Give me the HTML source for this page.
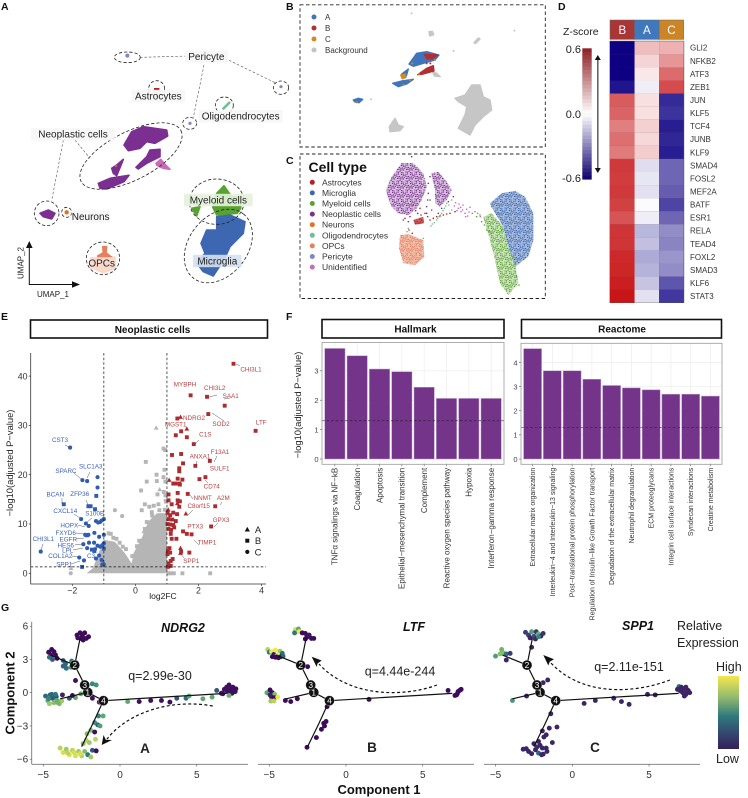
<!DOCTYPE html>
<html lang="en">
<head>
<meta charset="utf-8">
<title>Neoplastic cell multi-panel figure</title>
<style>
html,body{margin:0;padding:0;background:#fff;}
body{width:748px;height:798px;overflow:hidden;}
svg{display:block;font-family:"Liberation Sans",sans-serif;}
text{font-family:"Liberation Sans",sans-serif;}
</style>
</head>
<body>
<svg id="fig" xmlns="http://www.w3.org/2000/svg" width="748" height="798" viewBox="0 0 748 798">
  <defs id="defs">
    <linearGradient id="viridisGrad" x1="0" y1="0" x2="0" y2="1">
      <stop offset="0" stop-color="#f4e84e"/>
      <stop offset="0.3" stop-color="#8fb870"/>
      <stop offset="0.55" stop-color="#2f7a7c"/>
      <stop offset="0.8" stop-color="#34446f"/>
      <stop offset="1" stop-color="#35205a"/>
    </linearGradient>
  </defs>
  <rect x="0" y="0" width="748" height="798" fill="#fff"/>
  <g font-weight="bold" font-size="10.5" fill="#111">
    <text x="1" y="10">A</text>
    <text x="286" y="10">B</text>
    <text x="286" y="164">C</text>
    <text x="558" y="10">D</text>
    <text x="1" y="320">E</text>
    <text x="286" y="320">F</text>
    <text x="1" y="611">G</text>
  </g>
  <g id="panelA"></g>
  <g id="panelB">
    <rect x="300" y="4.8" width="245.3" height="142.2" fill="none" stroke="#222" stroke-width="0.9" stroke-dasharray="3.5 2.5"/>
  </g>
  <g id="panelC">
    <rect x="300" y="154" width="245.3" height="144.5" fill="none" stroke="#222" stroke-width="0.9" stroke-dasharray="3.5 2.5"/>
    <text x="308.5" y="172" font-size="14" font-weight="bold" fill="#111">Cell type</text>
  </g>
  <g id="panelD">
    <text x="563" y="35" font-size="10.5" fill="#222">Z-score</text>
    <text x="581" y="53" font-size="11" fill="#222" text-anchor="end">0.6</text>
    <text x="581" y="118" font-size="11" fill="#222" text-anchor="end">0.0</text>
    <text x="581" y="182" font-size="11" fill="#222" text-anchor="end">-0.6</text>
    <line x1="597.8" y1="58" x2="597.8" y2="170" stroke="#666" stroke-width="1.6"/>
    <polygon points="597.8,55 594.8,60 600.8,60" fill="#111"/>
    <polygon points="597.8,173 594.8,168 600.8,168" fill="#111"/>
  </g>
  <g id="panelE">
    <rect x="30.5" y="320" width="237" height="18" fill="#fff" stroke="#111" stroke-width="1.6"/>
    <text x="152.5" y="332.8" font-size="10" font-weight="bold" text-anchor="middle" fill="#111">Neoplastic cells</text>
    <text transform="translate(13,463) rotate(-90)" font-size="9.4" text-anchor="middle" fill="#222">−log10(adjusted P−value)</text>
    <text x="163" y="599" font-size="8.5" text-anchor="middle" fill="#222">log2FC</text>
  </g>
  <g id="panelF">
    <rect x="322" y="319.5" width="182" height="18.5" fill="#fff" stroke="#111" stroke-width="1.6"/>
    <text x="415.5" y="332.5" font-size="10" font-weight="bold" text-anchor="middle" fill="#111">Hallmark</text>
    <rect x="521.5" y="319.5" width="200" height="18.5" fill="#fff" stroke="#111" stroke-width="1.6"/>
    <text x="622" y="332.5" font-size="10" font-weight="bold" text-anchor="middle" fill="#111">Reactome</text>
    <text transform="translate(301,405) rotate(-90)" font-size="9.4" text-anchor="middle" fill="#222">−log10(adjusted P−value)</text>
  </g>
  <g id="panelG">
    <text transform="translate(14.5,693) rotate(-90)" font-size="13" font-weight="bold" text-anchor="middle" fill="#111">Component 2</text>
    <text x="379" y="794" font-size="13" font-weight="bold" text-anchor="middle" fill="#111">Component 1</text>
    <text x="183" y="632" font-size="12.5" font-weight="bold" font-style="italic" text-anchor="middle" fill="#111">NDRG2</text>
    <text x="414" y="631" font-size="12.5" font-weight="bold" font-style="italic" text-anchor="middle" fill="#111">LTF</text>
    <text x="638" y="630" font-size="12.5" font-weight="bold" font-style="italic" text-anchor="middle" fill="#111">SPP1</text>
    <text x="160" y="680" font-size="12.5" text-anchor="middle" fill="#222">q=2.99e-30</text>
    <text x="400" y="675.5" font-size="12.5" text-anchor="middle" fill="#222">q=4.44e-244</text>
    <text x="629" y="671" font-size="12.5" text-anchor="middle" fill="#222">q=2.11e-151</text>
    <text x="145" y="753" font-size="13.5" font-weight="bold" text-anchor="middle" fill="#222">A</text>
    <text x="372" y="752" font-size="13.5" font-weight="bold" text-anchor="middle" fill="#222">B</text>
    <text x="595" y="752" font-size="13.5" font-weight="bold" text-anchor="middle" fill="#222">C</text>
    <text x="677" y="630" font-size="12.5" fill="#222">Relative</text>
    <text x="677" y="647" font-size="12.5" fill="#222">Expression</text>
    <text x="716" y="671" font-size="12.5" fill="#222">High</text>
    <rect x="718" y="676" width="21" height="73" fill="url(#viridisGrad)"/>
    <text x="716" y="763" font-size="12.5" fill="#222">Low</text>
  </g>
</svg>
<script>
// ---------- Heatmap (panel D) data ----------
const heatmapGenes = ["GLI2","NFKB2","ATF3","ZEB1","JUN","KLF5","TCF4","JUNB","KLF9","SMAD4","FOSL2","MEF2A","BATF","ESR1","RELA","TEAD4","FOXL2","SMAD3","KLF6","STAT3"];
const heatmapColumns = ["B","A","C"];
const heatmapColumnColors = ["#a83636","#3f78bd","#cc8526"];
const zScoresB = [-0.6,-0.6,-0.6,-0.55,0.42,0.4,0.33,0.37,0.34,0.51,0.5,0.51,0.49,0.44,0.52,0.52,0.55,0.56,0.58,0.6];
const zScoresA = [0.17,0.11,0.06,-0.04,0.08,0.08,0.12,0.1,0.13,-0.08,-0.06,-0.07,-0.01,-0.04,-0.17,-0.15,-0.2,-0.18,-0.14,-0.07];
const zScoresC = [0.2,0.27,0.38,0.46,-0.5,-0.48,-0.53,-0.51,-0.53,-0.36,-0.36,-0.38,-0.44,-0.36,-0.27,-0.29,-0.25,-0.27,-0.4,-0.47];

// ---------- Volcano (panel E) data: [log2FC, -log10 adj p] ----------
const volcanoUpSquares = [[3.11,42.5],[1.75,36.1],[2.27,35.8],[2.83,34],[2.31,32.3],[1.33,31.4],[1.45,28.8],[1.28,28],[1.63,27.6],[3.81,28.9],[1.85,26.2],[1.16,24],[1.45,24.2],[1.51,22.3],[1.39,21.3],[1.39,20.7],[2.36,22.8],[1.9,21.8],[2.22,19.5],[2.03,19.1],[1.34,19.2],[1.49,19],[1.2,18.2],[1.27,18.2],[1.39,18.2],[1.41,18],[1.34,16.3],[1.05,16],[1.66,16.1],[2.53,13.6],[1.34,14.8],[1.41,14.6],[1.15,14],[1.39,13.5],[1.05,14.8],[1.02,12.3],[1.1,11.8],[1.2,12.3],[1.32,12],[1.05,11],[1.17,10.9],[1.28,10.6],[1.02,10],[1.1,9.9],[1.2,9.8],[1.05,9],[1.13,8.8],[1.23,9.3],[2.4,9.5],[1.51,8.5],[1.63,8],[1.78,7.9],[1.12,8],[1.15,7],[1.3,7],[1.71,4.2],[1.08,5.1],[1.03,4.6],[1.1,4.2],[1.02,3.9],[1.45,4.4],[1.12,2.5],[1.05,2],[1.18,2.9],[1.03,1.3],[1.12,1.5]];
const volcanoUpTriangles = [[1.43,31.7],[1.63,29.3],[1.07,18.9],[1.33,14.2],[1.6,12.1],[1.04,12.9],[1.43,5.1],[1.43,4.1]];
const volcanoDownCircles = [[-2.07,25.5],[-1.68,18.9],[-1.53,18.7],[-1.2,19.5],[-1.2,17.4],[-1.72,11],[-1.57,10.1],[-1.48,9.6],[-1.25,10.6],[-1.18,10.3],[-1.12,10.4],[-1.07,10.7],[-1,11],[-1.59,7.8],[-1.49,7.8],[-1.3,8.2],[-1.15,7.4],[-1,7.8],[-1.65,5.9],[-1.47,6.2],[-1.31,6.2],[-1.2,5.6],[-1.12,5.4],[-1.05,5.7],[-1,6.1],[-3,4.4],[-1.78,3.2],[-1.63,2.6],[-1.25,3],[-1.15,3.6],[-1.07,2.7],[-1.05,1.8],[-1,1.8],[-1.53,5.1],[-1.28,4.9]];
const volcanoDownSquares = [[-1.24,15.7],[-2.27,14],[-1.49,13.6],[-1.42,13.6],[-1.28,13],[-1.69,1.3],[-1.38,4.8],[-1.3,4.5],[-1,5],[-1.54,7.7]];
const volcanoGrayBodyLog2fc = [-1.55,-1.35,-1,-0.65,-0.33,-0.12,-0.06,0.2,0.41,0.68,1,1,1.2];
const volcanoGrayBodyLogP = [0,1,6.8,6.4,4.05,2,4.05,7.1,10.5,12.2,12.2,0,0];
const volcanoGraySquares = [[0.89,25.3],[0.94,25],[0.33,22.6],[0.92,21],[0.89,19.5],[0.67,20],[0.36,18.6],[0.18,16.8],[0.68,18.7],[0.95,18.6],[0.3,14],[0.2,12.8],[0.44,13.5],[0.58,13.7],[0.73,14],[0.96,14.7],[0.9,16.5],[0.95,15.8],[0.7,16],[0.85,11.8],[-0.85,8.1],[-0.78,8],[-0.7,7.2],[-0.6,7],[-0.5,6.2],[-0.4,5.4],[-0.3,4.9],[-0.86,5.2],[-0.75,4.5],[-0.6,3.8],[-0.93,3.8],[-0.9,2.6],[-0.8,2.8],[-1.22,1.2],[-0.9,1.3],[-0.1,3.5],[0.52,12.4],[1.49,0],[1.22,0],[1.12,0],[1.06,0],[2.37,0],[-1.02,2.2],[0.05,5.5],[0.12,6.6],[0.3,9],[0.36,10.4],[0.53,11.7],[0.76,12.8],[0.93,12.9]];
const volcanoGrayCircles = [[-0.65,12.8],[-0.42,11.6],[-2.05,0]];
const volcanoGrayTriangles = [[0.66,29.5],[0.77,17],[0.98,14.5],[-2.04,1],[0.27,8.5],[0.23,7]];
const volcanoXTicks = [-2,0,2,4];
const volcanoYTicks = [0,10,20,30,40];

// ---------- Enrichment (panel F) data ----------
const hallmarkTerms = ["TNFα signalings via NF−kB","Coagulation","Apoptosis","Epithelial−mesenchymal transition","Complement","Reactive oxygen species pathway","Hypoxia","Interferon−gamma response"];
const hallmarkValues = [3.76,3.51,3.06,2.97,2.44,2.06,2.06,2.06];
const hallmarkTicks = [0,1,2,3];
const reactomeTerms = ["Extracellular matrix organization","Interleukin−4 and Interleukin−13 signaling","Post−translational protein phosphorylation","Regulation of Insulin−like Growth Factor transport","Degradation of the extracellular matrix","Neutrophil degranulation","ECM proteoglycans","Integrin cell surface interactions","Syndecan interactions","Creatine metabolism"];
const reactomeValues = [4.58,3.66,3.66,3.31,3.05,2.95,2.87,2.69,2.69,2.61];
const reactomeTicks = [0,1,2,3,4];
const significanceLine = 1.3;

// ---------- Trajectory (panel G) data: [comp1, comp2, expression] ----------
const trajectoryNodes = [[-2.1,0.03,"1"],[-2.95,2.49,"2"],[-2.3,0.69,"3"],[-1.08,-0.72,"4"]];
const trunkSegments = [[[-2.95,2.49],[-2.3,0.69]],[[-2.3,0.69],[-2.1,0.03]],[[-2.1,0.03],[-1.08,-0.72]],[[-2.95,2.49],[-2.6,4.9]],[[-2.95,2.49],[-4.55,3.4]],[[-2.1,0.03],[-3.9,-0.55]],[[-1.08,-0.72],[6.93,-0.06]]];
const curvedBranch = [[-1.08,-0.72],[-1.75,-2.8],[-2.5,-4.87]];
const geneComponentTicks = [-5,0,5];
const componentYTicks = [-6,-3,0,3,6];
const ndrg2Cells = [[-2.8,5.2,0],[-2.6,5.4,0],[-2.45,5.1,0],[-2.3,5.4,0],[-2.2,4.9,0],[-2.4,4.75,0],[-2.55,4.9,0],[-2.05,5.05,0],[-2.75,4.95,.02],
[-2.85,2.7,.02],[-4.65,3.65,0],[-4.45,3.9,0],[-4.3,3.7,0],[-4.5,3.4,.02],[-4.2,3.4,0],[-4.6,3.2,.45],[-4.1,3.1,0],[-4.4,3,.35],[-3.7,2.9,.3],[-3.55,2.6,.4],[-3.5,2.2,.45],[-3.2,2.3,.6],[-3.7,2.4,.4],[-3.15,2.85,.5],[-2.9,1.1,.02],[-1.8,.8,.55],[-1.55,.7,.6],
[-4.85,-.3,.4],[-4.7,-.7,.7],[-4.55,-.2,.45],[-4.4,-.5,.3],[-4.6,-1,.85],[-4.3,-.9,.8],[-4.15,-.35,.3],[-4.1,-.7,.7],[-3.95,-1,.8],[-3.8,-.75,.85],[-3.75,-.2,.1],[-4.45,-.15,.4],[-4.2,-.15,.5],[-4.65,-.55,.55],[-4.05,-.9,.75],[-3.3,-.5,.3],[-2.9,-.45,.7],[-2.55,-.1,.7],[-3.1,-.25,.02],
[-1.8,-.5,.02],[-1.35,-.85,.05],[-1.4,-2.1,.55],[-1.1,-2.1,.7],[-1.65,-2.7,.6],[-1.45,-2.9,.45],[-1.3,-3,.65],[-1.9,-3.4,.8],[-1.65,-3.55,.02],[-2.15,-3.7,.8],[-2.2,-4.3,.9],[-2,-4.5,.85],[-1.6,-4.2,.9],[-2.4,-4.6,.8],
[-3.9,-5,.9],[-3.7,-5.4,.95],[-3.5,-5.1,.85],[-3.3,-5.6,.95],[-3.1,-5.2,.9],[-2.9,-5.7,.95],[-2.7,-5.3,.85],[-2.5,-5.7,.9],[-2.3,-5.3,.8],[-2.1,-5.6,.5],[-1.9,-5.8,.85],[-1.8,-5.2,.3],[-1.55,-5.25,.02],[-3.4,-5.45,.9],[-3,-5.4,.95],[-2.6,-5.5,.95],
[.5,-.8,.7],[1.25,-.8,.02],[2,-.7,.02],[2.7,-.7,.02],[3.25,-.85,.02],[3.7,-.5,.3],[4.3,-.5,.45],[4.5,-.3,.7],[5.4,-.55,.7],[6,-.4,.7],[6.3,.2,.3],[6.7,-.1,.02],[7.1,.7,.02],[6.8,.3,.02],[6.95,.5,.02],[7.2,.3,.02],[7.35,.5,.02],[7.45,.3,.02],[7.5,.1,.02],[7.2,.05,.02],[7.0,.1,.02],[7.3,-.05,.02],[7.1,-.25,.75],[7.55,.35,.02],[6.6,-.05,.02]];
const ltfCells = [[-3.3,5.7,.95],[-3.2,5.5,1],[-3.1,5.75,.7],[-3.35,5.4,.5],[-3.05,5.5,1],[-2.85,5.4,0],[-2.65,5.35,0],[-2.55,5.0,0],[-2.4,5.2,.05],[-2.25,4.9,0],[-2.1,4.9,0],[-2.65,4.85,0],
[-5.1,3.9,.9],[-5,3.65,.5],[-4.85,3.7,1],[-4.7,3.45,.05],[-4.6,3.85,1],[-4.5,3.35,.9],[-4.3,3.75,.85],[-4.15,3.55,.45],[-4.8,3.25,0],[-4.6,3.2,0],[-4.4,3.15,0],[-4.25,3.25,0],[-4.1,3.3,.4],
[-2.5,2.35,0],[-5.15,0,.7],[-4.95,.25,0],[-4.8,0,0],[-4.65,-.15,.8],[-4.85,-.4,.02],[-4.65,-.45,0],[-4.9,-.75,.85],[-4.7,-.75,.9],[-4.45,-.4,1],[-4.95,-.2,.1],[-3.95,-.7,0],[-3.6,-.8,0],[-3.17,-.55,0],
[1.5,-.6,0],[6.65,.2,0],[7.2,-.2,0],[7.3,.1,0],[7.4,.2,0],[7.5,.3,0],[7.25,-.1,0],[7.1,-.25,0],[-1.45,-2.76,0],[-1.6,-3.3,0],[-1.3,-2.6,0],[-1.4,-3,0],[-1.23,-1.26,0],[-1.93,-4.05,0],[-2.54,-4.93,0]];
const spp1Cells = [[-3.05,5.45,.2],[-2.85,5.2,.2],[-2.65,5.5,.65],[-2.5,5.1,.3],[-2.35,5.5,.15],[-2.2,5.3,.75],[-2.05,5.1,.1],[-1.9,5.35,.15],[-2.75,4.95,.1],[-2.4,4.85,.1],[-2.2,5.05,.55],[-2.65,4.1,.1],
[-5,3.3,.65],[-4.7,3.5,.8],[-4.6,3.9,.75],[-4.5,3.6,.8],[-4.3,3.5,.45],[-4.05,3.55,.2],[-4.3,2.95,.1],[-1.6,1.15,.1],[-1.9,.9,.1],[-3.9,-.7,.62],[-2.98,-.3,.1],
[-1.4,-1.9,.1],[-1.0,-3.1,.1],[-1.95,-3.45,.1],[-1.7,-3.8,.1],[-1.5,-3.2,.1],[-1.85,-4.0,.1],[-1.3,-4.5,.1],[-2.2,-4.4,.1],[-2.5,-4.6,.1],[-2.3,-4.9,.15],[-2.1,-4.75,.1],[-1.95,-5,.1],[-1.7,-5,.1],[-1.65,-5.3,.1],[-1.9,-5.55,.1],[-2.2,-5.45,.4],[-2.4,-5.15,.1],[-3.2,-5.1,.1],[-3,-5.05,.1],[-2.85,-5.3,.1],[-2.65,-5.5,.1],[-2.0,-5.6,.1],
[.77,-.97,.1],[1.5,-.7,.1],[2.7,-.5,.1],[3.2,-.8,.1],[3.7,-1.05,.1],[4.9,-.15,.1],[5.4,-.2,.1],[6.95,.55,.45],[6.85,.3,.1],[7.1,.5,.1],[7.25,.3,.1],[7.4,.5,.1],[7.55,.2,.1],[7.65,0,.1],[7.4,-.15,.1],[7.2,0,.1],[7.05,.15,.1],[7.3,-.3,.1],[7.5,.05,.1]];

// ---------- UMAP embedding outlines (embedding units) ----------
const cellLegendLabels = ["Astrocytes","Microglia","Myeloid cells","Neoplastic cells","Neurons","Oligodendrocytes","OPCs","Pericyte","Unidentified"];
const cellLegendColors = ["#b62025","#3d68b1","#58a32f","#7a2f91","#e27322","#74bb97","#e4805b","#7e87c4","#c96cb8"];
const sampleLegendLabels = ["A","B","C","Background"];
const sampleLegendColors = ["#3f75bc","#b32e2e","#cf8a26","#c4c4c4"];

const umapAColorShapes = [
 ["#7a2f91",[[372,435],[395,395],[430,380],[500,390],[503,408],[465,430],[440,425],[420,445],[385,452]]],
 ["#7a2f91",[[408,502],[440,470],[450,450],[480,448],[480,470],[440,490],[415,507]]],
 ["#7a2f91",[[335,505],[350,495],[370,478],[362,498],[350,527],[340,520]]],
 ["#7a2f91",[[295,550],[330,535],[387,526],[372,545],[320,567],[300,565]]],
 ["#7a2f91",[[120,640],[145,630],[165,640],[155,657],[130,650]]],
 ["#c96cb8",[[468,490],[482,478],[492,490],[510,508],[490,505],[482,502],[470,495]]],
 ["#f7d9cc",[[280,780],[300,768],[345,772],[345,805],[310,818],[285,808]]],
 ["#e4805b",[[308,740],[320,740],[318,758],[335,772],[310,772],[295,778],[293,768],[310,758]]],
 ["#58a32f",[[672,557],[695,590],[722,590],[722,625],[712,640],[650,645],[638,622],[650,580]]],
 ["#58a32f",[[575,625],[600,620],[590,648]]],
 ["#3d68b1",[[650,650],[690,645],[735,665],[730,700],[690,740],[672,780],[650,812],[640,828],[610,815],[590,790],[615,760],[603,730],[620,690],[650,690]]]
];
const umapBShapes = [
 ["#c6c6c6",[[480,295],[510,285],[530,255],[555,255],[565,290],[585,300],[590,330],[565,350],[540,375],[525,405],[490,385],[510,345],[515,320],[490,305]]],
 ["#c6c6c6",[[300,355],[310,375],[325,380],[315,392],[285,395],[283,380]]],
 ["#c6c6c6",[[402,95],[412,94],[416,104],[404,108]]],
 ["#c6c6c6",[[537,128],[550,114],[555,117],[541,131]]],
 ["#c6c6c6",[[412,215],[425,220],[436,230],[418,228]]],
 ["#3f75bc",[[342,192],[365,160],[395,155],[432,165],[420,180],[385,190],[355,199]]],
 ["#3f75bc",[[175,300],[190,295],[203,298],[192,308],[180,306]]],
 ["#3f75bc",[[293,250],[320,243],[355,238],[335,252],[310,260]]],
 ["#3f75bc",[[320,222],[340,207],[334,228]]],
 ["#b32e2e",[[368,224],[395,205],[415,197],[417,213],[385,222]]],
 ["#b32e2e",[[388,163],[428,165],[412,176],[395,176]]],
 ["#cf8a26",[[317,225],[330,222],[333,232],[322,236]]]
];
const umapCStipples = [
 ["#7a2f91",0.3,[[272,570],[290,530],[320,488],[355,490],[385,520],[395,560],[380,600],[365,625],[340,645],[310,640],[290,620],[278,590]]],
 ["#7a2f91",0.3,[[408,520],[430,515],[455,545],[470,570],[455,600],[435,620],[420,608],[420,570]]],
 ["#3d68b1",0.45,[[585,610],[620,580],[660,572],[690,590],[715,640],[715,720],[700,770],[660,800],[640,740],[625,680],[600,640]]],
 ["#58a32f",0.3,[[565,650],[590,640],[625,680],[640,740],[660,790],[670,850],[640,885],[615,850],[600,780],[585,720]]],
 ["#e4805b",0.5,[[315,705],[340,703],[385,720],[388,770],[360,795],[325,790],[312,745]]],
 ["#b62025",0.7,[[355,660],[385,650],[387,670],[360,674]]]
];
const trailUnidentified = [[470,600],[482,608],[492,612],[497,622],[503,630],[510,640],[518,648],[525,622],[532,640],[540,635],[548,640],[556,650],[504,615],[515,628],[490,625],[498,635],[512,650],[522,636],[478,618],[486,632]];
const trailAstrocyte = [[355,615],[362,632],[375,625],[390,640],[405,660],[425,650],[445,645],[465,640],[480,635],[345,650],[342,690],[352,700],[368,640],[378,645],[398,650],[415,655],[435,648],[455,642]];
const trailOligo = [[408,678],[418,668],[425,660],[432,650],[440,640],[448,625],[455,610],[385,715],[380,740],[375,765],[462,615],[470,630],[412,672],[428,655],[436,645],[444,632],[452,618],[340,685],[336,695]];
const trailPurple = [[400,580],[405,600],[395,620],[410,630],[440,625],[460,605],[475,590],[340,665],[325,660],[395,640],[400,550],[405,530],[350,470],[330,655],[398,600],[430,640]];
const trailGreen = [[545,650],[560,665],[575,690],[590,700],[610,640],[590,620],[620,690],[665,830],[672,855],[555,645],[568,675],[582,695]];

const umapEllipses = [[393,468,168,72,-27],[655,738,122,88,-52],[650,605,82,68,0],[140,640,37,37,0],[200,637,15,15,0],[309,775,50,49,0],[470,266,24,24,0],[673,316,27,25,0],[382,172,39,16,0],[843,263,23,20,0],[569,370,21,18,0]];
const umapLeaders = [[420,172,565,168],[675,175,825,248],[612,195,580,352],[190,420,155,602],[225,420,270,475]];
const umapLabels = [["Pericyte",619,170],["Astrocytes",475,288],["Oligodendrocytes",722,349],["Neoplastic cells",219,403],["Neurons",272,650],["OPCs",305,790],["Myeloid cells",655,600],["Microglia",652,783]];

// ---------- Helpers ----------
const NS = "http://www.w3.org/2000/svg";
function shape(tag, parent, attrs){
  const node = document.createElementNS(NS, tag);
  for (const k in attrs) node.setAttribute(k, attrs[k]);
  parent.appendChild(node);
  return node;
}
function ptsToString(list, fx, fy){
  return list.map(p => fx(p[0]).toFixed(1) + "," + fy(p[1]).toFixed(1)).join(" ");
}
const defs = document.getElementById("defs");
const panelA = document.getElementById("panelA");
const panelB = document.getElementById("panelB");
const panelC = document.getElementById("panelC");
const panelD = document.getElementById("panelD");
const panelE = document.getElementById("panelE");
const panelF = document.getElementById("panelF");
const panelG = document.getElementById("panelG");

// ---------- Panel A ----------
const ax = u => u / 3;
const ay = v => v / 3;
for (const s of umapAColorShapes){
  const poly = shape("polygon", panelA, {points: ptsToString(s[1], ax, ay), fill: s[0], stroke: s[0], "stroke-width": 1.6, "stroke-linejoin": "round"});
  
  
}
[[382,167,"#7e87c4",2],[843,260,"#7e87c4",1.6],[570,370,"#7e87c4",1.6],[200,637,"#e27322",2.2],[348,498,"#e27322",1]].forEach(d => {
  const c = shape("circle", panelA, {cx: ax(d[0]), cy: ay(d[1]), r: d[3], fill: d[2]});
  
  
});
const astroHalo = shape("circle", panelA, {cx: ax(470), cy: ay(277), r: 4, fill: "#f2c9c4"});


const astroBlob = shape("rect", panelA, {x: ax(462), y: ay(264), width: 5.4, height: 2.6, fill: "#b62025"});


const oligoBlob = shape("line", panelA, {x1: ax(668), y1: ay(328), x2: ax(690), y2: ay(306), stroke: "#74bb97", "stroke-width": 2.6});


for (const e of umapEllipses){
  const el = shape("ellipse", panelA, {cx: 0, cy: 0, rx: ax(e[2]), ry: ay(e[3]), transform: "translate(" + ax(e[0]) + "," + ay(e[1]) + ") rotate(" + e[4] + ")", fill: "none", stroke: "#222", "stroke-width": 0.8, "stroke-dasharray": "3.2 2"});
  
  
}
for (const l of umapLeaders){
  const ln = shape("line", panelA, {x1: ax(l[0]), y1: ay(l[1]), x2: ax(l[2]), y2: ay(l[3]), stroke: "#555", "stroke-width": 0.6, "stroke-dasharray": "2.6 1.8"});
  
  
}
for (const t of umapLabels){
  const wide = t[0].length * 5.05 + 3;
  const bg = shape("rect", panelA, {x: ax(t[1]) - wide / 2, y: ay(t[2]) - 6.2, width: wide, height: 12.4, fill: t[0] === "Microglia" ? "#d5e0f0" : t[0] === "Myeloid cells" ? "#e6f2dc" : t[0] === "OPCs" ? "#f7d9cc" : "#f6f6f6", opacity: 0.9});
  
  
  const tx = shape("text", panelA, {x: ax(t[1]), y: ay(t[2]) + 3.4, "font-size": 10, "text-anchor": "middle", fill: "#222"});
  
  
  tx.textContent = t[0];
}
const umapAxis = shape("path", panelA, {d: "M29.3 245V284.5H76", fill: "none", stroke: "#111", "stroke-width": 1});


const umapArrowUp = shape("polygon", panelA, {points: "29.3,241 26,248 32.6,248", fill: "#111"});


const umapArrowRight = shape("polygon", panelA, {points: "80,284.5 72,281.2 72,287.8", fill: "#111"});


const umapX = shape("text", panelA, {x: 53, y: 297, "font-size": 8, "text-anchor": "middle", fill: "#222"});


umapX.textContent = "UMAP_1";
const umapY = shape("text", panelA, {transform: "translate(23.5,263) rotate(-90)", "font-size": 8, "text-anchor": "middle", fill: "#222"});


umapY.textContent = "UMAP_2";

// ---------- Panel B ----------
const bx = u => 295 + u / 3;
const by = v => v / 3;
for (const s of umapBShapes){
  const poly = shape("polygon", panelB, {points: ptsToString(s[1], bx, by), fill: s[0], stroke: s[0], "stroke-width": 1.4, "stroke-linejoin": "round"});
  
  
}
[[350,40,"#c6c6c6"],[476,153,"#c6c6c6"],[658,92,"#c6c6c6"],[228,298,"#c6c6c6"],[406,190,"#b32e2e"],[395,190,"#b32e2e"],[420,180,"#cf8a26"],[352,190,"#cf8a26"],[325,255,"#cf8a26"],[345,240,"#cf8a26"],[185,307,"#cf8a26"],[372,222,"#cf8a26"],[412,205,"#b32e2e"]].forEach(d => {
  const c = shape("circle", panelB, {cx: bx(d[0]), cy: by(d[1]), r: 1, fill: d[2]});
  
  
});
sampleLegendLabels.forEach((name, i) => {
  const y = 17 + i * 11;
  const dot = shape("circle", panelB, {cx: 314, cy: y, r: 2.5, fill: sampleLegendColors[i]});
  
  
  const tx = shape("text", panelB, {x: 325, y: y + 3, "font-size": 8, fill: "#333"});
  
  
  tx.textContent = name;
});

// ---------- Panel C ----------
const tile = [[1,1],[4,0.5],[7,2],[2.5,3],[5.5,3.5],[8,4.5],[0.5,5],[3.5,5.5],[6.5,6],[1.5,7.5],[4.5,8],[7.5,8],[2.5,1.2],[5.6,1.6],[0.9,3.2],[7.2,3.7],[2,5.8],[5,6.4],[8.3,6.4],[3,7.4],[6.1,7.9]];
const cx = u => 295 + u / 3;
const cy = v => v / 3;
umapCStipples.forEach((s, i) => {
  const pat = shape("pattern", defs, {id: "stip" + i, width: 9, height: 9, patternUnits: "userSpaceOnUse"});
  tile.forEach(t => shape("circle", pat, {cx: t[0], cy: t[1], r: 0.62, fill: s[0]}));
  const tint = shape("polygon", panelC, {points: ptsToString(s[2], cx, cy), fill: s[0], "fill-opacity": s[1]});
  
  
  const poly = shape("polygon", panelC, {points: ptsToString(s[2], cx, cy), fill: "url(#stip" + i + ")"});
  
  
});
[[trailUnidentified,"#c96cb8"],[trailAstrocyte,"#b62025"],[trailOligo,"#74bb97"],[trailPurple,"#7a2f91"],[trailGreen,"#58a32f"]].forEach(group => {
  for (const p of group[0]){
    const c = shape("circle", panelC, {cx: cx(p[0]), cy: cy(p[1]), r: 0.8, fill: group[1]});
    
    
  }
});
cellLegendLabels.forEach((name, i) => {
  const y = 182.3 + i * 10.6;
  const dot = shape("circle", panelC, {cx: 312.3, cy: y, r: 2.5, fill: cellLegendColors[i]});
  
  
  const tx = shape("text", panelC, {x: 322, y: y + 3, "font-size": 8.5, fill: "#333"});
  
  
  tx.textContent = name;
});

// ---------- Panel D ----------
function zColor(z){
  const t = Math.min(1, Math.abs(z) / 0.6);
  const end = z >= 0 ? [200,22,24] : [13,0,131];
  return "rgb(" + end.map(c => Math.round(255 + (c - 255) * t)).join(",") + ")";
}
function barColor(z){
  const t = Math.min(1, Math.abs(z) / 0.6);
  const end = z >= 0 ? [140,30,36] : [13,0,110];
  return "rgb(" + end.map(c => Math.round(255 + (c - 255) * t)).join(",") + ")";
}
const heatX = col => 610 + col * 24.55;
const heatY = row => 41.3 + row * 13.07;
const zColumns = [zScoresB, zScoresA, zScoresC];
const heatFrame = shape("rect", panelD, {x: 609.6, y: 40.8, width: 74.6, height: 262.2, fill: "#555"});


zColumns.forEach((vals, c) => {
  const head = shape("rect", panelD, {x: heatX(c), y: 20, width: 24.55, height: 19.4, fill: heatmapColumnColors[c], stroke: "#666", "stroke-width": 0.5});
  
  
  const lab = shape("text", panelD, {x: heatX(c) + 12.3, y: 34, "font-size": 11.5, "text-anchor": "middle", fill: "#fff"});
  
  
  lab.textContent = heatmapColumns[c];
  vals.forEach((z, r) => {
    const cell = shape("rect", panelD, {x: heatX(c), y: heatY(r), width: 24.55, height: 13.07, fill: zColor(z)});
    
    
  });
});
heatmapGenes.forEach((g, r) => {
  const tx = shape("text", panelD, {x: 690, y: heatY(r) + 9.4, "font-size": 8, fill: "#333"});
  
  
  tx.textContent = g;
});
for (let i = 0; i < 36; i++){
  const seg = shape("rect", panelD, {x: 582.3, y: 48.3 + i * 131 / 36, width: 9.4, height: 131 / 36 + 0.3, fill: barColor(0.6 - 1.2 * (i + 0.5) / 36)});
  
  
}

// ---------- Panel E ----------
const vx = v => 135.4 + v * 31.55;
const vy = v => 573.3 - v * 4.93;
const greyBody = shape("polygon", panelE, {points: volcanoGrayBodyLog2fc.map((v, i) => vx(v).toFixed(1) + "," + vy(volcanoGrayBodyLogP[i]).toFixed(1)).join(" "), fill: "#b5b5b5"});


function vSquare(p, fill){
  const s = shape("rect", panelE, {x: vx(p[0]) - 1.95, y: vy(p[1]) - 1.95, width: 3.9, height: 3.9, fill: fill});
  
  
}
function vCircle(p, fill){
  const s = shape("circle", panelE, {cx: vx(p[0]), cy: vy(p[1]), r: 2.05, fill: fill});
  
  
}
function vTriangle(p, fill){
  const x = vx(p[0]), y = vy(p[1]);
  const s = shape("polygon", panelE, {points: x + "," + (y - 2.5) + " " + (x - 2.4) + "," + (y + 1.8) + " " + (x + 2.4) + "," + (y + 1.8), fill: fill});
  
  
}
volcanoGraySquares.forEach(p => vSquare(p, "#b5b5b5"));
volcanoGrayCircles.forEach(p => vCircle(p, "#b5b5b5"));
volcanoGrayTriangles.forEach(p => vTriangle(p, "#b5b5b5"));
volcanoUpSquares.forEach(p => vSquare(p, "#ab2c30"));
volcanoUpTriangles.forEach(p => vTriangle(p, "#ab2c30"));
volcanoDownCircles.forEach(p => vCircle(p, "#2f5cae"));
volcanoDownSquares.forEach(p => vSquare(p, "#2f5cae"));
[[vx(-1), 353, vx(-1), 584],[vx(1), 353, vx(1), 584],[30.7, vy(significanceLine), 266, vy(significanceLine)]].forEach(l => {
  const ln = shape("line", panelE, {x1: l[0], y1: l[1], x2: l[2], y2: l[3], stroke: "#111", "stroke-width": 0.7, "stroke-dasharray": "2.6 2"});
  
  
});
const vAxes = shape("path", panelE, {d: "M30.7 353V584H266", fill: "none", stroke: "#333", "stroke-width": 0.8});


volcanoXTicks.forEach(t => {
  const m = shape("line", panelE, {x1: vx(t), y1: 584, x2: vx(t), y2: 586, stroke: "#333", "stroke-width": 0.7});
  
  
  const tx = shape("text", panelE, {x: vx(t), y: 593.5, "font-size": 8.8, "text-anchor": "middle", fill: "#333"});
  
  
  tx.textContent = t < 0 ? "−" + Math.abs(t) : String(t);
});
volcanoYTicks.forEach(t => {
  const m = shape("line", panelE, {x1: 28.7, y1: vy(t), x2: 30.7, y2: vy(t), stroke: "#333", "stroke-width": 0.7});
  
  
  const tx = shape("text", panelE, {x: 27.5, y: vy(t) + 3.2, "font-size": 8.8, "text-anchor": "end", fill: "#333"});
  
  
  tx.textContent = String(t);
});
function geneLabel(text, x, y, color){
  const tx = shape("text", panelE, {x: x, y: y + 2.2, "font-size": 6.3, "text-anchor": "middle", fill: color});
  
  
  tx.textContent = text;
}
function leader(x1, y1, x2, y2){
  const ln = shape("line", panelE, {x1: x1, y1: y1, x2: x2, y2: y2, stroke: "#444", "stroke-width": 0.45});
  
  
}
const redInk = "#b8403f", blueInk = "#3c60b6";
geneLabel("CHI3L1",251,369.3,redInk); geneLabel("MYBPH",185,384.3,redInk); geneLabel("CHI3L2",214.7,387.7,redInk); geneLabel("SAA1",230.7,395.7,redInk);
geneLabel("NDRG2",194,417.7,redInk); geneLabel("MGST1",175.7,424.3,redInk); geneLabel("SOD2",221,423.7,redInk); geneLabel("LTF",261.3,422.3,redInk);
geneLabel("C1S",205.3,434.3,redInk); geneLabel("F13A1",220,451.7,redInk); geneLabel("ANXA1",200,456.3,redInk); geneLabel("SULF1",219.7,468.3,redInk);
geneLabel("CD74",211.7,486.3,redInk); geneLabel("NNMT",202.7,497.7,redInk); geneLabel("A2M",223.3,497.7,redInk); geneLabel("C8orf15",198.7,505.7,redInk);
geneLabel("GPX3",221,520,redInk); geneLabel("PTX3",195.3,526.3,redInk); geneLabel("TIMP1",207,542.3,redInk); geneLabel("SPP1",191.3,561,redInk);
geneLabel("CST3",60,440,blueInk); geneLabel("SPARC",66,470.7,blueInk); geneLabel("SLC1A3",90.7,466.3,blueInk); geneLabel("BCAN",55.3,494.3,blueInk);
geneLabel("ZFP36",79.7,494,blueInk); geneLabel("CXCL14",65.3,511,blueInk); geneLabel("S100B",94.7,513.3,blueInk); geneLabel("HOPX",69.3,525.3,blueInk);
geneLabel("FXYD6",65.7,533,blueInk); geneLabel("EGFR",68.3,539.3,blueInk); geneLabel("HES6",65.7,545.3,blueInk); geneLabel("LPL",67.7,550.3,blueInk);
geneLabel("CHI3L1",43.3,539,blueInk); geneLabel("COL1A2",60.3,556,blueInk); geneLabel("C3",91,556,blueInk); geneLabel("SPP1",64.3,564.3,blueInk);
leader(236,364,240,366); leader(217,395,209,397); leader(224,399,230,398); leader(212,413,224,421); leader(194,445,199,440); leader(214,462,217,456);
leader(196,466,197,461); leader(205,480,208,483); leader(193,499,190,495); leader(220,505,222,502); leader(188,515,193,510); leader(214,527,218,523);
leader(194,540,199,545); leader(180,553,184,558); leader(65,445,69,447); leader(74,473,81,479); leader(90,472,87,478); leader(62,498,62,504);
leader(86,500,88,505); leader(74,514,80,518); leader(92,518,87,522); leader(78,525,85,527); leader(76,533,84,534); leader(76,539,84,538);
leader(75,545,82,544); leader(73,550,83,548); leader(43,544,41,550); leader(72,556,78,557); leader(71,564,80,561);
const legendMarks = [["A",vTriangleMark],["B",vSquareMark],["C",vCircleMark]];
function vTriangleMark(x, y){
  const s = shape("polygon", panelE, {points: x + "," + (y - 2.6) + " " + (x - 2.6) + "," + (y + 2) + " " + (x + 2.6) + "," + (y + 2), fill: "#111"});
  
  
}
function vSquareMark(x, y){
  const s = shape("rect", panelE, {x: x - 2, y: y - 2, width: 4, height: 4, fill: "#111"});
  
  
}
function vCircleMark(x, y){
  const s = shape("circle", panelE, {cx: x, cy: y, r: 2.1, fill: "#111"});
  
  
}
legendMarks.forEach((m, i) => {
  const y = 529.5 + i * 11.2;
  m[1](247.3, y);
  const tx = shape("text", panelE, {x: 258, y: y + 3.5, "font-size": 9.5, "text-anchor": "middle", fill: "#222"});
  
  
  tx.textContent = m[0];
});

// ---------- Panel F ----------
function barPanel(terms, values, ticks, left, right, top, bottom, unit, labelSize, barFrac){
  const yScale = v => 459 - v * unit;
  const step = (right - left - 3.4) / terms.length;
  const xScale = i => left + 1.7 + step * (i + 0.5);
  const bg = shape("rect", panelF, {x: left, y: top, width: right - left, height: bottom - top, fill: "#fff"});
  
  
  ticks.forEach(t => {
    const g = shape("line", panelF, {x1: left, y1: yScale(t), x2: right, y2: yScale(t), stroke: "#ececec", "stroke-width": 0.7});
    
    
    const m = shape("line", panelF, {x1: left - 2, y1: yScale(t), x2: left, y2: yScale(t), stroke: "#555", "stroke-width": 0.6});
    
    
    const tx = shape("text", panelF, {x: left - 3.5, y: yScale(t) + 2.8, "font-size": 7.5, "text-anchor": "end", fill: "#444"});
    
    
    tx.textContent = String(t);
  });
  terms.forEach((term, i) => {
    const g = shape("line", panelF, {x1: xScale(i), y1: top, x2: xScale(i), y2: bottom, stroke: "#ececec", "stroke-width": 0.7});
    
    
  });
  values.forEach((v, i) => {
    const w = step * barFrac;
    const bar = shape("rect", panelF, {x: xScale(i) - w / 2, y: yScale(v), width: w, height: yScale(0) - yScale(v), fill: "#73348a", stroke: "#b9a0c8", "stroke-width": 0.5});
    
    
  });
  terms.forEach((term, i) => {
    const m = shape("line", panelF, {x1: xScale(i), y1: bottom, x2: xScale(i), y2: bottom + 2, stroke: "#555", "stroke-width": 0.6});
    
    
    const tx = shape("text", panelF, {transform: "translate(" + (xScale(i) + labelSize * 0.36) + "," + (bottom + 3.5) + ") rotate(-90)", "font-size": labelSize, "text-anchor": "end", fill: "#333"});
    
    
    tx.textContent = term;
  });
  const sig = shape("line", panelF, {x1: left, y1: yScale(significanceLine), x2: right, y2: yScale(significanceLine), stroke: "#222", "stroke-width": 0.7, "stroke-dasharray": "2.6 2", opacity: 0.8});
  
  
  const frame = shape("rect", panelF, {x: left, y: top, width: right - left, height: bottom - top, fill: "none", stroke: "#999", "stroke-width": 0.8});
  
  
}
barPanel(hallmarkTerms, hallmarkValues, hallmarkTicks, 322, 504, 342.5, 464.3, 29.4, 8, 0.91);
barPanel(reactomeTerms, reactomeValues, reactomeTicks, 521, 722, 343.3, 464.3, 24.1, 6.95, 0.91);

// ---------- Panel G ----------
function viridis(t){
  const stops = [[62,10,90],[58,74,122],[42,122,130],[108,180,110],[240,232,75]];
  const s = Math.max(0, Math.min(1, t)) * 4;
  const i = Math.min(3, Math.floor(s));
  const f = s - i;
  return "rgb(" + [0,1,2].map(k => Math.round(stops[i][k] + (stops[i + 1][k] - stops[i][k]) * f)).join(",") + ")";
}
const gy = v => 692.7 - v * 11.08;
function trajectoryPanel(cells, x0, axisLeft, axisRight, showYAxis){
  const gx = v => x0 + v * 15.35;
  const axis = shape("line", panelG, {x1: axisLeft, y1: 764.3, x2: axisRight, y2: 764.3, stroke: "#777", "stroke-width": 0.9});
  
  
  geneComponentTicks.forEach(t => {
    const m = shape("line", panelG, {x1: gx(t), y1: 764.3, x2: gx(t), y2: 766.5, stroke: "#555", "stroke-width": 0.6});
    
    
    const tx = shape("text", panelG, {x: gx(t), y: 778, "font-size": 10, "text-anchor": "middle", fill: "#333"});
    
    
    tx.textContent = t < 0 ? "−" + Math.abs(t) : String(t);
  });
  if (showYAxis){
    const yAxis = shape("line", panelG, {x1: axisLeft, y1: 621.7, x2: axisLeft, y2: 764.3, stroke: "#777", "stroke-width": 0.9});
    
    
    componentYTicks.forEach(t => {
      const m = shape("line", panelG, {x1: axisLeft - 2, y1: gy(t), x2: axisLeft, y2: gy(t), stroke: "#555", "stroke-width": 0.6});
      
      
      const tx = shape("text", panelG, {x: axisLeft - 3.5, y: gy(t) + 3.5, "font-size": 10, "text-anchor": "end", fill: "#333"});
      
      
      tx.textContent = t < 0 ? "−" + Math.abs(t) : String(t);
    });
  }
  cells.forEach(c => {
    const dot = shape("circle", panelG, {cx: gx(c[0]), cy: gy(c[1]), r: 2.45, fill: viridis(c[2])});
    
    
  });
  trunkSegments.forEach(s => {
    const ln = shape("line", panelG, {x1: gx(s[0][0]), y1: gy(s[0][1]), x2: gx(s[1][0]), y2: gy(s[1][1]), stroke: "#111", "stroke-width": 1.2});
    
    
  });
  const curve = shape("path", panelG, {d: "M" + gx(curvedBranch[0][0]) + " " + gy(curvedBranch[0][1]) + "Q" + gx(curvedBranch[1][0]) + " " + gy(curvedBranch[1][1]) + " " + gx(curvedBranch[2][0]) + " " + gy(curvedBranch[2][1]), fill: "none", stroke: "#111", "stroke-width": 1.2});
  
  
  trajectoryNodes.forEach(n => {
    const c = shape("circle", panelG, {cx: gx(n[0]), cy: gy(n[1]), r: 5, fill: "#111", stroke: "#fff", "stroke-width": 0.3});
    
    
    const tx = shape("text", panelG, {x: gx(n[0]), y: gy(n[1]) + 3, "font-size": 8.4, "text-anchor": "middle", fill: "#fff"});
    
    
    tx.textContent = n[2];
  });
}
trajectoryPanel(ndrg2Cells, 120, 31.7, 248, true);
trajectoryPanel(ltfCells, 346, 258, 474, false);
trajectoryPanel(spp1Cells, 572.3, 484, 700, false);
[["M212.7 706C175 699 130 710 107 739",[101.7,745,103.5,735,105.8,739.8,112,740]],
 ["M437 685C405 697 350 698 319 664",[311.7,656.7,321.7,660.5,317.5,663.5,316.7,667]],
 ["M670 680C630 695 580 695 550 662",[543.3,655,554,659.3,549.8,661.6,548.3,665.5]]].forEach(a => {
  const p = shape("path", panelG, {d: a[0], fill: "none", stroke: "#111", "stroke-width": 1.2, "stroke-dasharray": "3 2.4"});
  
  
  const h = a[1];
  const head = shape("polygon", panelG, {points: h[0] + "," + h[1] + " " + h[2] + "," + h[3] + " " + h[4] + "," + h[5] + " " + h[6] + "," + h[7], fill: "#111"});
  
  
});
</script>
</body>
</html>
